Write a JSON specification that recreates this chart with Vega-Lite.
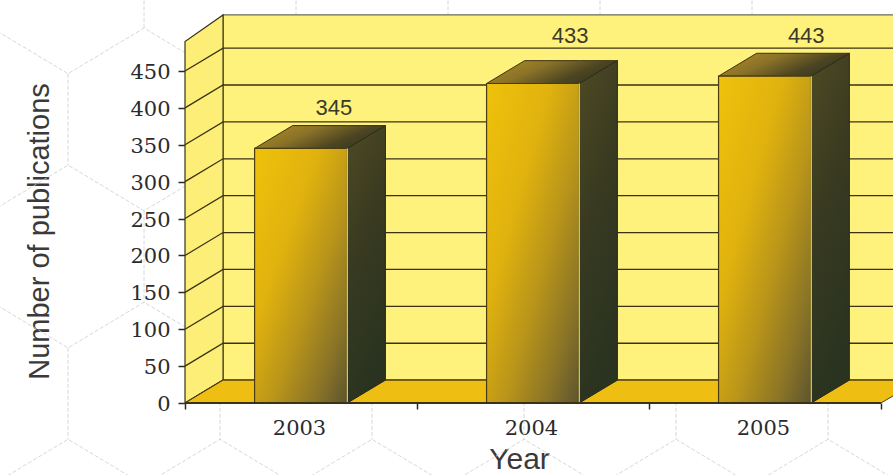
{
  "$schema": "https://vega.github.io/schema/vega-lite/v6.json",
  "width": 708,
  "height": 403,
  "autosize": "none",
  "padding": {"left": 185, "top": 0, "right": 0, "bottom": 72},
  "background": "#ffffff",
  "config": {"view": {"stroke": null}},
  "datasets": {
    "publications": [
      {"year": 2003, "value": 345},
      {"year": 2004, "value": 433},
      {"year": 2005, "value": 443}
    ],
    "gridLevels": [
      {"level": 0}, {"level": 50}, {"level": 100}, {"level": 150}, {"level": 200},
      {"level": 250}, {"level": 300}, {"level": 350}, {"level": 400}, {"level": 450}
    ],
    "room": [
      {"face": "back", "px": 2002.664, "py": 31, "py2": 526},
      {"face": "back", "px": 2005.56, "py": 31, "py2": 526},
      {"face": "left", "px": 2002.5, "py": 0, "py2": 490},
      {"face": "left", "px": 2002.664, "py": 31, "py2": 526},
      {"face": "floor", "px": 2002.5, "py": 0, "py2": 0},
      {"face": "floor", "px": 2002.664, "py": 0, "py2": 31},
      {"face": "floor", "px": 2005.5, "py": 0, "py2": 31},
      {"face": "floor", "px": 2005.56, "py": 11, "py2": 31},
      {"face": "base", "px": 2002.5, "py": 0, "py2": 0},
      {"face": "base", "px": 2005.5, "py": 0, "py2": 0}
    ],
    "honeycomb": [
      {"path": "z0", "u": -1, "v": 0}, {"path": "z0", "u": 0, "v": 1}, {"path": "z0", "u": 1, "v": 0}, {"path": "z0", "u": 2, "v": 1},
      {"path": "z1", "u": -1, "v": 4}, {"path": "z1", "u": 0, "v": 3}, {"path": "z1", "u": 1, "v": 4}, {"path": "z1", "u": 2, "v": 3},
      {"path": "z2", "u": -1, "v": 6}, {"path": "z2", "u": 0, "v": 7}, {"path": "z2", "u": 1, "v": 6}, {"path": "z2", "u": 2, "v": 7},
      {"path": "z3", "u": -1, "v": 10}, {"path": "z3", "u": 0, "v": 9}, {"path": "z3", "u": 1, "v": 10}, {"path": "z3", "u": 2, "v": 9},
      {"path": "z3", "u": 3, "v": 10}, {"path": "z3", "u": 4, "v": 9}, {"path": "z3", "u": 5, "v": 10}, {"path": "z3", "u": 6, "v": 9},
      {"path": "z3", "u": 7, "v": 10}, {"path": "z3", "u": 8, "v": 9}, {"path": "z3", "u": 9, "v": 10}, {"path": "z3", "u": 10, "v": 9},
      {"path": "z3", "u": 11, "v": 10},
      {"path": "t1", "u": 1, "v": -1}, {"path": "t1", "u": 1, "v": 0},
      {"path": "t3", "u": 3, "v": -1}, {"path": "t3", "u": 3, "v": 0},
      {"path": "t5", "u": 5, "v": -1}, {"path": "t5", "u": 5, "v": 0},
      {"path": "t7", "u": 7, "v": -1}, {"path": "t7", "u": 7, "v": 0},
      {"path": "t9", "u": 9, "v": -1}, {"path": "t9", "u": 9, "v": 0},
      {"path": "m0", "u": 0, "v": 1}, {"path": "m0", "u": 0, "v": 3},
      {"path": "m1", "u": 1, "v": 4}, {"path": "m1", "u": 1, "v": 6},
      {"path": "b0", "u": 0, "v": 7}, {"path": "b0", "u": 0, "v": 9},
      {"path": "b2", "u": 2, "v": 7}, {"path": "b2", "u": 2, "v": 9},
      {"path": "b4", "u": 4, "v": 7}, {"path": "b4", "u": 4, "v": 9},
      {"path": "b6", "u": 6, "v": 7}, {"path": "b6", "u": 6, "v": 9},
      {"path": "b8", "u": 8, "v": 7}, {"path": "b8", "u": 8, "v": 9},
      {"path": "b10", "u": 10, "v": 7}, {"path": "b10", "u": 10, "v": 9}
    ]
  },
  "resolve": {"scale": {"x": "independent", "y": "independent"}},
  "layer": [
    {
      "data": {"name": "honeycomb"},
      "mark": {"type": "line", "stroke": "#cdcdcd", "strokeWidth": 0.8, "strokeDash": [4, 2], "clip": false},
      "encoding": {
        "x": {"field": "u", "type": "quantitative", "axis": null, "scale": {"domain": [1.539, 10.855], "nice": false, "zero": false}},
        "y": {"field": "v", "type": "quantitative", "axis": null, "scale": {"domain": [8.206, -0.613], "nice": false, "zero": false}},
        "detail": {"field": "path"},
        "order": {"field": "u"}
      }
    },
    {
      "encoding": {
        "x": {
          "field": "px",
          "type": "quantitative",
          "scale": {"domain": [2002.5, 2005.552], "nice": false, "zero": false},
          "axis": {
            "title": "Year",
            "titleFont": "Liberation Sans",
            "titleFontSize": 30,
            "titleFontWeight": "normal",
            "titleColor": "#3a3a3a",
            "titleX": 334,
            "titleY": 65,
            "titleAlign": "center",
            "titleBaseline": "alphabetic",
            "values": [2002.5, 2003, 2003.5, 2004, 2004.5, 2005, 2005.5],
            "labelExpr": "datum.value % 1 === 0 ? datum.value : ''",
            "labelFont": "DejaVu Serif",
            "labelFontSize": 21,
            "labelColor": "#2b2b2b",
            "labelPadding": 8,
            "labelOffset": -2,
            "labelOverlap": false,
            "labelFlush": false,
            "labelBound": false,
            "domain": false,
            "grid": false,
            "tickColor": "#2a2a18",
            "tickWidth": 1.5,
            "tickSize": 6,
            "tickOpacity": {"condition": {"test": "datum.value % 1 === 0", "value": 0}, "value": 1}
          }
        },
        "y": {
          "field": "py",
          "type": "quantitative",
          "scale": {"domain": [0, 546.2], "nice": false, "zero": false},
          "axis": {
            "title": "Number of publications",
            "titleFont": "Liberation Sans",
            "titleFontSize": 29,
            "titleFontWeight": "normal",
            "titleColor": "#3a3a3a",
            "titleX": -137,
            "titleY": 231,
            "titleAngle": -90,
            "titleAlign": "center",
            "titleBaseline": "alphabetic",
            "values": [0, 50, 100, 150, 200, 250, 300, 350, 400, 450],
            "labelFont": "DejaVu Serif",
            "labelFontSize": 21,
            "labelColor": "#2b2b2b",
            "labelPadding": 8,
            "labelOffset": 1.5,
            "labelOverlap": false,
            "labelFlush": false,
            "labelBound": false,
            "domain": false,
            "grid": false,
            "tickColor": "#2a2a18",
            "tickWidth": 1.5,
            "tickSize": 7
          }
        }
      },
      "layer": [
        {
          "data": {"name": "room"},
          "transform": [{"filter": "datum.face === 'back'"}],
          "mark": {"type": "area", "fill": "#fef27c", "stroke": "#6b6a50", "strokeWidth": 1.2},
          "encoding": {"y2": {"field": "py2"}}
        },
        {
          "data": {"name": "room"},
          "transform": [{"filter": "datum.face === 'left'"}],
          "mark": {"type": "area", "fill": "#fdee78", "stroke": "#3a3416", "strokeWidth": 1.2},
          "encoding": {"y2": {"field": "py2"}}
        },
        {
          "description": "Grid lines fold from the left wall onto the back wall",
          "data": {"name": "gridLevels"},
          "transform": [
            {"calculate": "[0, 1, 2]", "as": "knot"},
            {"flatten": ["knot"]},
            {"calculate": "datum.knot === 0 ? 2002.5 : datum.knot === 1 ? 2002.664 : 2005.56", "as": "px"},
            {"calculate": "datum.knot === 0 ? datum.level : datum.level + 31", "as": "py"}
          ],
          "mark": {"type": "line", "stroke": "#3a3214", "strokeWidth": 1.3},
          "encoding": {"detail": {"field": "level"}, "order": {"field": "knot"}}
        },
        {
          "data": {"name": "room"},
          "transform": [{"filter": "datum.face === 'floor'"}],
          "mark": {"type": "area", "fill": "#efbe12", "stroke": "#4a3c10", "strokeWidth": 1},
          "encoding": {"y2": {"field": "py2"}}
        },
        {
          "description": "Top face of each column",
          "data": {"name": "publications"},
          "transform": [
            {"calculate": "[0, 1, 2, 3]", "as": "knot"},
            {"flatten": ["knot"]},
            {"calculate": "datum.year - 0.2 + [0, 0.164, 0.4, 0.564][datum.knot]", "as": "px"},
            {"calculate": "datum.value + [0, 31, 31, 31][datum.knot]", "as": "py"},
            {"calculate": "datum.value + [0, 0, 0, 31][datum.knot]", "as": "py2"}
          ],
          "mark": {
            "type": "area",
            "stroke": "#3a3214",
            "strokeWidth": 1,
            "fill": {
              "gradient": "linear", "x1": 0, "y1": 0, "x2": 1, "y2": 0.4,
              "stops": [
                {"offset": 0, "color": "#b68f22"},
                {"offset": 0.45, "color": "#8a7228"},
                {"offset": 0.8, "color": "#4c4522"},
                {"offset": 1, "color": "#3a3a20"}
              ]
            }
          },
          "encoding": {"y2": {"field": "py2"}, "detail": {"field": "year"}}
        },
        {
          "description": "Right-hand side face of each column",
          "data": {"name": "publications"},
          "transform": [
            {"calculate": "[0, 1]", "as": "knot"},
            {"flatten": ["knot"]},
            {"calculate": "datum.year + 0.2 + datum.knot * 0.164", "as": "px"},
            {"calculate": "datum.value + datum.knot * 31", "as": "py"},
            {"calculate": "datum.knot * 31", "as": "py2"}
          ],
          "mark": {
            "type": "area",
            "stroke": "#2a2c18",
            "strokeWidth": 1,
            "fill": {
              "gradient": "linear", "x1": 0, "y1": 0, "x2": 0.3, "y2": 1,
              "stops": [
                {"offset": 0, "color": "#4f4a24"},
                {"offset": 0.45, "color": "#3a3b20"},
                {"offset": 1, "color": "#2a3320"}
              ]
            }
          },
          "encoding": {"y2": {"field": "py2"}, "detail": {"field": "year"}}
        },
        {
          "description": "Front face of each column",
          "data": {"name": "publications"},
          "transform": [
            {"calculate": "datum.year - 0.2", "as": "px"},
            {"calculate": "datum.year + 0.2", "as": "pxEnd"},
            {"calculate": "datum.value", "as": "py"},
            {"calculate": "0", "as": "py2"}
          ],
          "mark": {
            "type": "rect",
            "stroke": "#4a3c10",
            "strokeWidth": 1.2,
            "fill": {
              "gradient": "linear", "x1": 0, "y1": 0, "x2": 1, "y2": 1,
              "stops": [
                {"offset": 0, "color": "#efc20c"},
                {"offset": 0.35, "color": "#e0b20e"},
                {"offset": 0.6, "color": "#b8941a"},
                {"offset": 0.82, "color": "#8a7426"},
                {"offset": 1, "color": "#5c5430"}
              ]
            }
          },
          "encoding": {"x2": {"field": "pxEnd"}, "y2": {"field": "py2"}}
        },
        {
          "description": "Pale highlight on the edge between front and side",
          "data": {"name": "publications"},
          "transform": [
            {"calculate": "datum.year + 0.2", "as": "px"},
            {"calculate": "datum.value", "as": "py"},
            {"calculate": "0", "as": "py2"}
          ],
          "mark": {"type": "rule", "stroke": "#d8cf3c", "strokeWidth": 1.2},
          "encoding": {"y2": {"field": "py2"}}
        },
        {
          "data": {"name": "room"},
          "transform": [{"filter": "datum.face === 'base'"}],
          "mark": {"type": "line", "stroke": "#3a3214", "strokeWidth": 1.8}
        },
        {
          "data": {"name": "publications"},
          "transform": [
            {"calculate": "datum.year + 0.16 + (datum.year - 2004) * 0.018", "as": "px"},
            {"calculate": "datum.value + 55 + (datum.year === 2004 ? 9 : 0)", "as": "py"}
          ],
          "mark": {
            "type": "text",
            "font": "Liberation Sans",
            "fontSize": 22,
            "color": "#3a3a2a",
            "align": "center",
            "baseline": "middle"
          },
          "encoding": {"text": {"field": "value", "type": "quantitative"}}
        }
      ]
    }
  ]
}
